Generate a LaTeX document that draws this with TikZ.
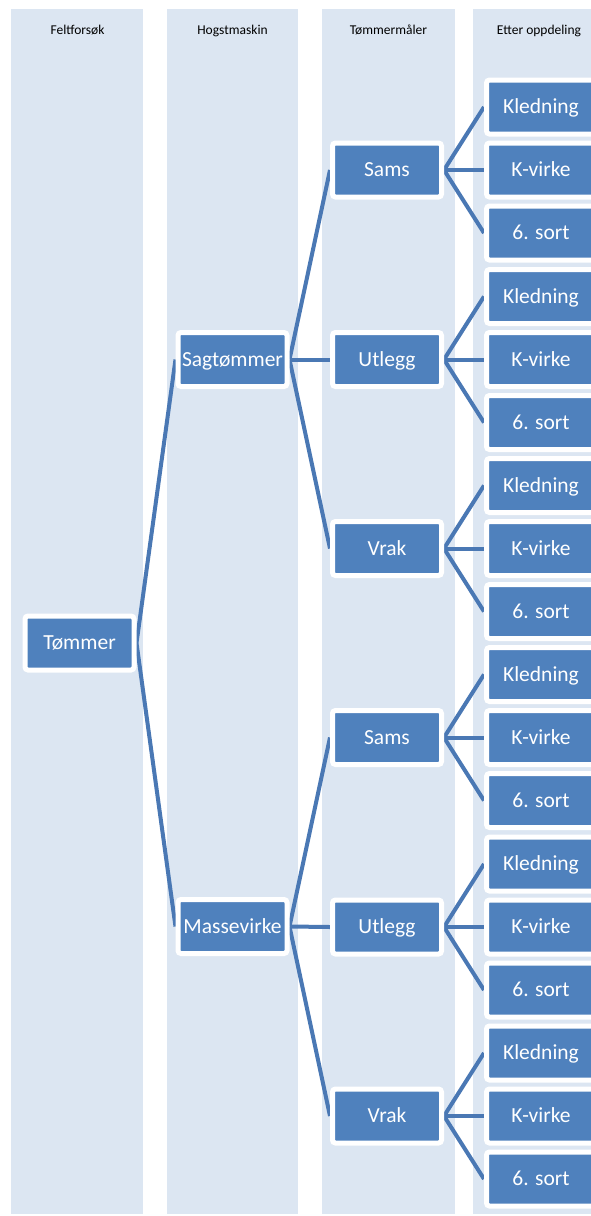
\documentclass[tikz,border=0pt]{standalone}
\usepackage{fontspec}
\setmainfont{Carlito}
\pgfdeclarelayer{background}
\pgfdeclarelayer{edges}
\pgfsetlayers{background,edges,main}
\definecolor{colbg}{HTML}{DCE6F2}
\definecolor{boxblue}{HTML}{4F81BD}
\definecolor{linkblue}{HTML}{4A78B4}
\tikzset{
  box/.style={rectangle, rounded corners=3pt, fill=boxblue, draw=white, line width=5pt,
    minimum width=109pt, minimum height=54pt, inner sep=0pt, text=white,
    text height=16pt, text depth=3pt,
    font=\fontsize{21.5}{24}\selectfont},
  header/.style={font=\fontsize{13.5}{15}\selectfont, text=black, inner sep=0pt,
    anchor=base},
  link/.style={draw=linkblue, line width=4pt},
}
\begin{document}
\begin{tikzpicture}[x=1pt,y=-1pt]
\useasboundingbox (0,0) rectangle (590,1216);
\begin{pgfonlayer}{background}
\fill[colbg] (11,9) rectangle (143,1214);
\fill[colbg] (167,9) rectangle (298,1214);
\fill[colbg] (322,9) rectangle (455,1214);
\fill[colbg] (473,9) rectangle (605,1214);
\end{pgfonlayer}
\node[header] (h1) at (77.5,34) {Feltforsøk};
\node[header] (h2) at (232.5,34) {Hogstmaskin};
\node[header] (h3) at (388.5,34) {Tømmermåler};
\node[header] (h4) at (539,34) {Etter oppdeling};

\node[box] (t) at (79.5,643) {Tømmer};
\node[box] (s) at (232.5,359.5) {Sagtømmer};
\node[box] (m) at (232.5,926.5) {Massevirke};

\foreach \n/\lab/\y in {a/Sams/170, b/Utlegg/359.5, c/Vrak/548.5, d/Sams/737.5, e/Utlegg/927, f/Vrak/1116}{
  \node[box] (\n) at (387,\y) {\lab};
  \node[box] (\n1) at (541,\y-63) {Kledning};
  \node[box] (\n2) at (541,\y) {K-virke};
  \node[box] (\n3) at (541,\y+63) {6. sort};
  \begin{pgfonlayer}{edges}
  \draw[link] (\n.east) -- (\n1.west);
  \draw[link] (\n.east) -- (\n2.west);
  \draw[link] (\n.east) -- (\n3.west);
  \end{pgfonlayer}
}
\begin{pgfonlayer}{edges}
\draw[link] (t.east) -- (s.west);
\draw[link] (t.east) -- (m.west);
\draw[link] (s.east) -- (a.west);
\draw[link] (s.east) -- (b.west);
\draw[link] (s.east) -- (c.west);
\draw[link] (m.east) -- (d.west);
\draw[link] (m.east) -- (e.west);
\draw[link] (m.east) -- (f.west);
\end{pgfonlayer}
\end{tikzpicture}
\end{document}
